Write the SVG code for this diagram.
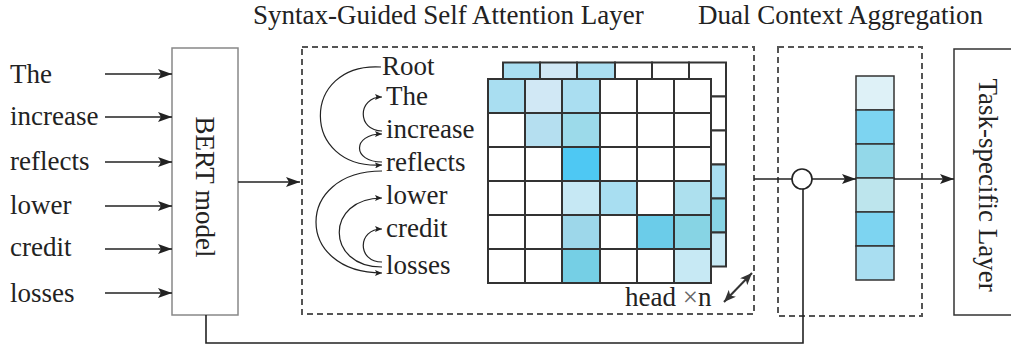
<svg xmlns="http://www.w3.org/2000/svg" width="1011" height="347" viewBox="0 0 1011 347">
<style>
text{font-family:"Liberation Serif","Times New Roman",serif;font-size:27px;fill:#222}
.ln{fill:none;stroke:#222;stroke-width:1.6}
.arc{fill:none;stroke:#222;stroke-width:1.2}
.dash{fill:none;stroke:#555;stroke-width:2;stroke-dasharray:6 4}
.c{stroke:#333;stroke-width:2;fill:#fff}
.box{fill:#fff;stroke:#888;stroke-width:1.5}
.tbox{fill:#fff;stroke:#333;stroke-width:1.5}
.v{stroke:#333;stroke-width:1.5}
</style>
<defs>
<marker id="ah" markerUnits="userSpaceOnUse" markerWidth="14" markerHeight="10" refX="14" refY="5" orient="auto"><path d="M0,0 L14,5 L0,10 L3,5 z" fill="#222"/></marker>
<marker id="sa" markerUnits="userSpaceOnUse" markerWidth="7" markerHeight="6" refX="7" refY="3" orient="auto"><path d="M0,0 L7,3 L0,6 L1.5,3 z" fill="#222"/></marker>
<marker id="da" markerUnits="userSpaceOnUse" markerWidth="12" markerHeight="10" refX="12" refY="5" orient="auto-start-reverse"><path d="M0,0 L12,5 L0,10 L3,5 z" fill="#333"/></marker>
</defs>

<text x="253" y="24">Syntax-Guided Self Attention Layer</text>
<text x="698" y="24">Dual Context Aggregation</text>

<g id="inputs">
<text x="10" y="83">The</text>
<text x="10" y="125">increase</text>
<text x="10" y="170">reflects</text>
<text x="10" y="214">lower</text>
<text x="10" y="256">credit</text>
<text x="10" y="302">losses</text>
</g>

<g id="bert">
<rect class="box" x="172" y="48" width="66" height="267"/>
<text x="205" y="187" text-anchor="middle" dominant-baseline="central" transform="rotate(90 205 187)">BERT model</text>
</g>

<g id="ssal">
<rect class="dash" x="302" y="47" width="452" height="267"/>
<text x="382" y="75">Root</text>
<text x="386" y="105">The</text>
<text x="386" y="138">increase</text>
<text x="386" y="171">reflects</text>
<text x="386" y="204">lower</text>
<text x="386" y="237">credit</text>
<text x="386" y="274">losses</text>
<g id="dep-arcs">
<path class="arc" marker-end="url(#sa)" d="M381 67 C300 62,300 170,382 165"/>
<path class="arc" marker-end="url(#sa)" d="M382 131 C357 131,357 97,382 97"/>
<path class="arc" marker-end="url(#sa)" d="M382 162 C352 162,352 134,382 134"/>
<path class="arc" marker-end="url(#sa)" d="M382 171 C294 171,294 273,382 273"/>
<path class="arc" marker-end="url(#sa)" d="M382 267 C325 267,325 198,382 198"/>
<path class="arc" marker-end="url(#sa)" d="M382 262 C357 262,357 229,382 229"/>
</g>
<g id="back-matrix">
<rect class="c" x="503" y="62.5" width="37" height="34" style="fill:#a9def1"/>
<rect class="c" x="540" y="62.5" width="37" height="34" style="fill:#d1e8f5"/>
<rect class="c" x="577" y="62.5" width="38" height="34" style="fill:#aadef1"/>
<rect class="c" x="615" y="62.5" width="37" height="34"/>
<rect class="c" x="652" y="62.5" width="37" height="34"/>
<rect class="c" x="689" y="62.5" width="37" height="34"/>
<rect class="c" x="689" y="96.5" width="37" height="34"/>
<rect class="c" x="689" y="130.5" width="37" height="34"/>
<rect class="c" x="689" y="164.5" width="37" height="34" style="fill:#a9def1"/>
<rect class="c" x="689" y="198.5" width="37" height="34" style="fill:#87d4e4"/>
<rect class="c" x="689" y="232.5" width="37" height="34" style="fill:#c7e9f4"/>
</g>
<g id="front-matrix">
<rect class="c" x="488" y="79" width="37" height="34" style="fill:#a9def1"/>
<rect class="c" x="525" y="79" width="37" height="34" style="fill:#d1e8f5"/>
<rect class="c" x="562" y="79" width="38" height="34" style="fill:#aadef1"/>
<rect class="c" x="600" y="79" width="37" height="34"/>
<rect class="c" x="637" y="79" width="37" height="34"/>
<rect class="c" x="674" y="79" width="37" height="34"/>

<rect class="c" x="488" y="113" width="37" height="34"/>
<rect class="c" x="525" y="113" width="37" height="34" style="fill:#b5dff0"/>
<rect class="c" x="562" y="113" width="38" height="34" style="fill:#9cdaea"/>
<rect class="c" x="600" y="113" width="37" height="34"/>
<rect class="c" x="637" y="113" width="37" height="34"/>
<rect class="c" x="674" y="113" width="37" height="34"/>

<rect class="c" x="488" y="147" width="37" height="34"/>
<rect class="c" x="525" y="147" width="37" height="34"/>
<rect class="c" x="562" y="147" width="38" height="34" style="fill:#4ec8f3"/>
<rect class="c" x="600" y="147" width="37" height="34"/>
<rect class="c" x="637" y="147" width="37" height="34"/>
<rect class="c" x="674" y="147" width="37" height="34"/>

<rect class="c" x="488" y="181" width="37" height="34"/>
<rect class="c" x="525" y="181" width="37" height="34"/>
<rect class="c" x="562" y="181" width="38" height="34" style="fill:#c6e8f4"/>
<rect class="c" x="600" y="181" width="37" height="34" style="fill:#a8def1"/>
<rect class="c" x="637" y="181" width="37" height="34"/>
<rect class="c" x="674" y="181" width="37" height="34" style="fill:#ade0ee"/>

<rect class="c" x="488" y="215" width="37" height="34"/>
<rect class="c" x="525" y="215" width="37" height="34"/>
<rect class="c" x="562" y="215" width="38" height="34" style="fill:#9dd7ea"/>
<rect class="c" x="600" y="215" width="37" height="34"/>
<rect class="c" x="637" y="215" width="37" height="34" style="fill:#6bcce9"/>
<rect class="c" x="674" y="215" width="37" height="34" style="fill:#87d4e4"/>

<rect class="c" x="488" y="249" width="37" height="34"/>
<rect class="c" x="525" y="249" width="37" height="34"/>
<rect class="c" x="562" y="249" width="38" height="34" style="fill:#75cfe5"/>
<rect class="c" x="600" y="249" width="37" height="34"/>
<rect class="c" x="637" y="249" width="37" height="34"/>
<rect class="c" x="674" y="249" width="37" height="34" style="fill:#c7e9f4"/>
</g>
<text x="625" y="306">head <tspan fill="#666">×</tspan>n</text>
<path fill="none" stroke="#333" stroke-width="2" marker-start="url(#da)" marker-end="url(#da)" d="M724 302 L752 273"/>
</g>

<g id="dca">
<rect class="dash" x="778" y="47" width="144" height="269"/>
<g id="vector">
<rect class="v" x="856" y="76" width="38" height="34" fill="#def1f7"/>
<rect class="v" x="856" y="110" width="38" height="34" fill="#7dd4f1"/>
<rect class="v" x="856" y="144" width="38" height="34" fill="#93d8e9"/>
<rect class="v" x="856" y="178" width="38" height="34" fill="#bde5ed"/>
<rect class="v" x="856" y="212" width="38" height="34" fill="#7dd4f1"/>
<rect class="v" x="856" y="246" width="38" height="34" fill="#a9def1"/>
</g>
<circle id="fuse" cx="802" cy="179" r="10" fill="#fff" stroke="#222" stroke-width="1.6"/>
</g>

<g id="task">
<rect class="tbox" x="954" y="49" width="70" height="266"/>
<text x="988" y="185" text-anchor="middle" dominant-baseline="central" transform="rotate(90 988 185)">Task-specific Layer</text>
</g>

<g id="connectors">
<line class="ln" x1="105" y1="74" x2="172" y2="74" marker-end="url(#ah)"/>
<line class="ln" x1="105" y1="117" x2="172" y2="117" marker-end="url(#ah)"/>
<line class="ln" x1="105" y1="162" x2="172" y2="162" marker-end="url(#ah)"/>
<line class="ln" x1="105" y1="206" x2="172" y2="206" marker-end="url(#ah)"/>
<line class="ln" x1="105" y1="249" x2="172" y2="249" marker-end="url(#ah)"/>
<line class="ln" x1="105" y1="293" x2="172" y2="293" marker-end="url(#ah)"/>
<line class="ln" x1="238" y1="182" x2="300" y2="182" marker-end="url(#ah)"/>
<line class="ln" x1="754" y1="179" x2="792" y2="179"/>
<line class="ln" x1="812" y1="179" x2="856" y2="179" marker-end="url(#ah)"/>
<line class="ln" x1="894" y1="179" x2="954" y2="179" marker-end="url(#ah)"/>
<polyline class="ln" points="206,315 206,343 803,343 803,189"/>
</g>
</svg>
